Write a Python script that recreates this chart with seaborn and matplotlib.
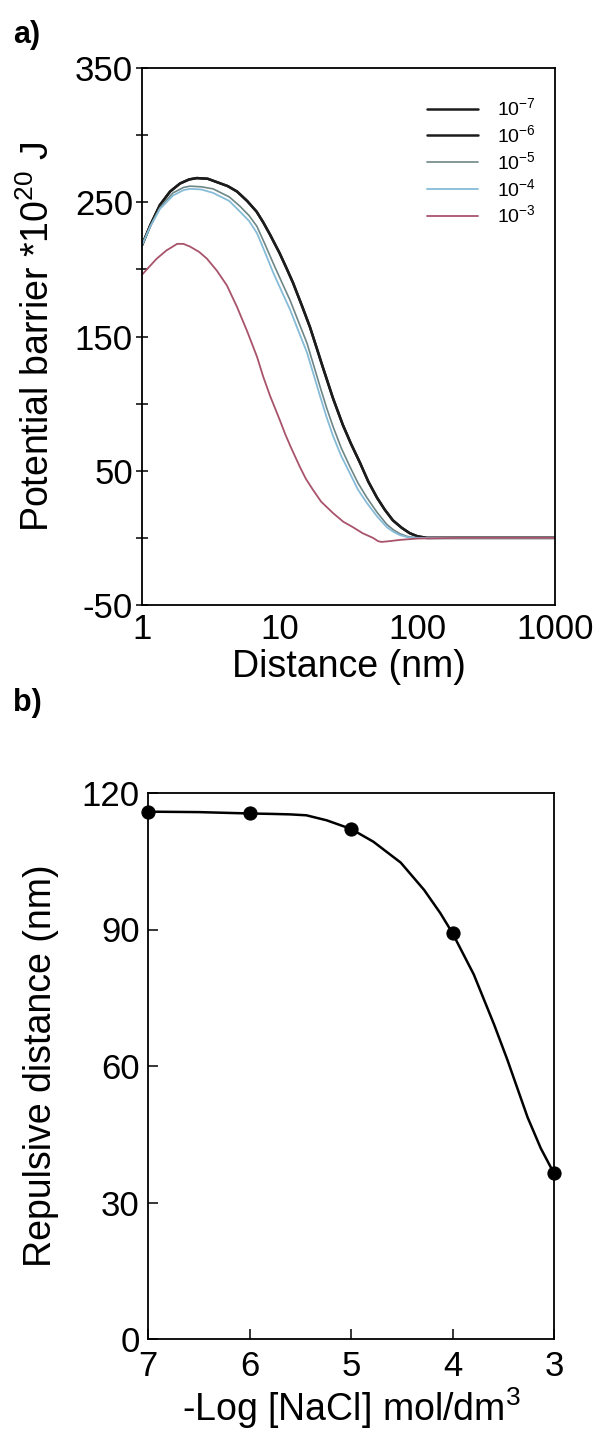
import numpy as np
import pandas as pd
import matplotlib
matplotlib.use("Agg")
import matplotlib.pyplot as plt
import seaborn as sns

# ---------------- Panel a data ----------------
conc_labels = ["10$^{-7}$", "10$^{-6}$", "10$^{-5}$", "10$^{-4}$", "10$^{-3}$"]

dist_black = [1, 1.15, 1.35, 1.6, 1.89, 2.2, 2.5, 3.0, 3.5, 4.2, 4.9, 5.8, 6.8, 7.6, 8.5, 10,
              11.2, 12.5, 14.5, 16.6, 18.5, 20.6, 22.5, 24.4, 28.8, 33, 38.3, 44, 50.9, 58,
              66.5, 77, 88, 100, 117, 200, 1000]
barrier_e7 = [218, 233, 248, 258, 264, 267, 268, 267.5, 265, 262, 258, 251, 243, 235, 226, 212,
              201, 190, 173, 157, 142, 127, 115, 104, 84, 70, 56, 42, 30, 21,
              13, 7.5, 3.5, 1.2, 0, 0, 0]
barrier_e6 = [218, 233, 248, 258, 264, 267, 268, 267.5, 265, 262, 258, 251, 243, 235, 226, 212,
              201, 190, 173, 157, 142, 127, 115, 104, 84, 70, 56, 42, 30, 21,
              13, 7.5, 3.5, 1.2, 0, 0, 0]

dist_mid = [1, 1.15, 1.35, 1.68, 2.0, 2.23, 2.7, 3.28, 4.3, 5.15, 6.0, 6.84, 7.8, 8.94, 10.3,
            11.9, 13.7, 15.8, 17.6, 19.6, 21.9, 24.4, 28, 32.4, 37, 43, 51, 60, 67, 75, 85,
            100, 200, 1000]
barrier_e5 = [218, 232.5, 246, 257, 261, 262, 261.5, 260, 254, 247, 240, 232, 219, 205, 191,
              177, 161, 145, 129, 113, 97, 83, 67, 53, 41, 30, 19, 10, 6, 3, 1,
              0, 0, 0]
barrier_e4 = [218, 232, 245, 255, 259, 260, 259.5, 257, 251, 243, 236, 227, 213, 198, 184,
              170, 154, 138, 122, 106, 90, 76, 61, 48, 36, 26, 16, 8, 4.5, 2, 0.5,
              0, 0, 0]

dist_red = [1, 1.13, 1.28, 1.5, 1.8, 2.0, 2.23, 2.6, 2.96, 3.5, 4.14, 4.9, 5.8, 6.84, 7.6, 8.5,
            10, 11, 12, 14, 15.5, 17.4, 20, 24.4, 29, 34, 40, 47.6, 52, 55, 62, 75, 100, 200, 1000]
barrier_e3 = [196, 202, 208, 214, 219, 219, 217, 213, 208, 199, 188, 172, 154, 135, 120, 106,
              88, 77, 68, 53, 44, 36, 27, 18.5, 12, 8, 3.5, 0, -2.5, -3, -2.5, -1.5, -0.5, 0, 0]

# ---------------- Panel b data ----------------
neglog_nacl = [7, 6, 5, 4, 3]
repulsive_nm = [115.9, 115.5, 112.1, 89.2, 36.4]
curve_x = [7, 6.5, 6, 5.77, 5.6, 5.44, 5.24, 5, 4.78, 4.51, 4.28, 4.12, 4, 3.79, 3.59, 3.46, 3.26, 3.13, 3]
curve_y = [115.9, 115.8, 115.5, 115.4, 115.3, 115.1, 114.0, 112.1, 109.3, 104.7, 98.7, 93.6, 89.2, 80.1, 69.1, 61.4, 48.7, 41.9, 36.4]

a_yticks = [-50, 50, 150, 250, 350]
a_yminor = [0, 100, 200, 300]
a_xticks = [1, 10, 100, 1000]
b_xticks = [7, 6, 5, 4, 3]
b_yticks = [0, 30, 60, 90, 120]

sns.set_style("white")
plt.rcParams["font.family"] = ["Liberation Sans", "DejaVu Sans"]
plt.rcParams["mathtext.default"] = "regular"
plt.rcParams["axes.unicode_minus"] = False
for k in ("text.color", "axes.labelcolor", "xtick.color", "ytick.color", "axes.edgecolor"):
    plt.rcParams[k] = "black"

fig = plt.figure(figsize=(6.06, 14.46), dpi=100)
axa = fig.add_axes([142 / 606, 1 - 605 / 1446, 413 / 606, 537 / 1446])
axb = fig.add_axes([148 / 606, 1 - 1339 / 1446, 406 / 606, 546 / 1446])

series = [
    (dist_black, barrier_e7, "#1c1c1c", 1.8),
    (dist_black, barrier_e6, "#1c1c1c", 1.8),
    (dist_mid, barrier_e5, "#6f8686", 1.2),
    (dist_mid, barrier_e4, "#86bcd8", 1.3),
    (dist_red, barrier_e3, "#a8536b", 1.3),
]
for (xs, ys, col, lw), lab in zip(series, conc_labels):
    df = pd.DataFrame({"d": xs, "v": ys})
    sns.lineplot(data=df, x="d", y="v", ax=axa, color=col, linewidth=lw,
                 sort=False, estimator=None, label=lab)

axa.set_xscale("log")
axa.set_xlim(1, 1000)
axa.set_ylim(-50, 350)
axa.set_xticks(a_xticks)
axa.set_xticklabels([str(t) for t in a_xticks])
axa.xaxis.set_minor_locator(matplotlib.ticker.NullLocator())
axa.set_yticks(a_yticks)
axa.set_yticklabels([str(t) for t in a_yticks])
axa.set_yticks(a_yminor, minor=True)
axa.tick_params(axis="x", which="major", direction="in", length=7, width=1.1,
                labelsize=25, pad=6)
axa.tick_params(axis="y", which="both", direction="inout", length=9, width=1.1,
                labelsize=25, pad=2, left=True)
axa.set_xlabel("Distance (nm)", fontsize=27, labelpad=2)
axa.set_ylabel("Potential barrier *10$^{20}$ J", fontsize=27)
axa.yaxis.set_label_coords(-0.205, 0.5)
leg = axa.legend(loc="upper left", bbox_to_anchor=(0.69, 0.945), frameon=False,
                 fontsize=14, handlelength=2.6, handletextpad=1.0,
                 labelspacing=0.25, borderpad=0, borderaxespad=0)

# Panel b
sns.lineplot(x=curve_x, y=curve_y, ax=axb, color="black", linewidth=1.8,
             sort=False, estimator=None)
sns.scatterplot(x=neglog_nacl, y=repulsive_nm, ax=axb, color="black", s=90,
                edgecolor="black", zorder=5, clip_on=False)
axb.set_xlim(7, 3)
axb.set_ylim(0, 120)
axb.set_xticks(b_xticks)
axb.set_xticklabels([str(t) for t in b_xticks])
axb.set_yticks(b_yticks)
axb.tick_params(axis="both", direction="in", length=7, width=1.1, labelsize=25,
                bottom=True, left=True)
axb.tick_params(axis="x", pad=8)
axb.tick_params(axis="y", pad=6)
axb.set_xlabel("-Log [NaCl] mol/dm$^{3}$", fontsize=27, labelpad=2)
axb.set_ylabel("Repulsive distance (nm)", fontsize=27)
axb.yaxis.set_label_coords(-0.22, 0.5)

for ax in (axa, axb):
    for sp in ax.spines.values():
        sp.set_visible(True)
        sp.set_color("black")
        sp.set_linewidth(1.3)

fig.text(13 / 606, 1 - 20 / 1446, "a)", fontsize=22, fontweight="bold",
         ha="left", va="top")
fig.text(13 / 606, 1 - 688 / 1446, "b)", fontsize=22, fontweight="bold",
         ha="left", va="top")

fig.savefig("out.png", dpi=100)
